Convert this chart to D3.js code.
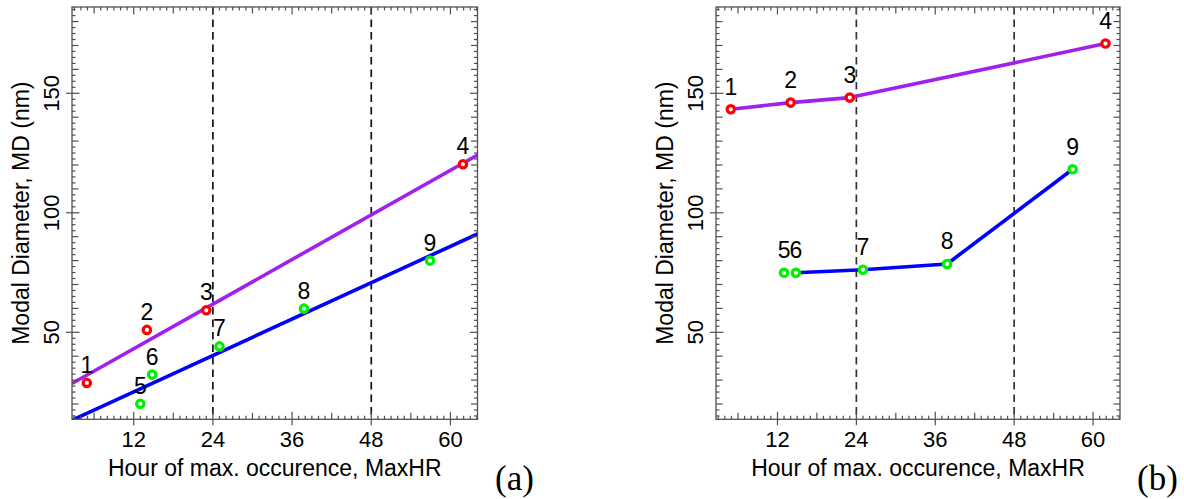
<!DOCTYPE html>
<html>
<head>
<meta charset="utf-8">
<script src="https://cdn.jsdelivr.net/npm/d3@7"></script>
<style>
  body { margin: 0; background: #fff; }
  svg { display: block; }
  text { font-family: "Liberation Sans", Arial, Helvetica, sans-serif; fill: #000; }
</style>
</head>
<body>
<svg id="chart" width="1184" height="499"></svg>
<script>
// Event numbers shown next to each marker
const redLabels = ["1", "2", "3", "4"];
const greenLabels = ["5", "6", "7", "8", "9"];

// Hour of maximum occurrence (MaxHR) for each event
const redHours = [4.9, 14.0, 23.0, 61.9];
const greenHours = [13.0, 14.8, 25.0, 37.8, 56.9];

// Modal diameter (nm), panel (a)
const redMD_a = [28.8, 51.0, 59.2, 120.3];
const greenMD_a = [20.1, 32.3, 44.1, 59.9, 80.0];

// Modal diameter (nm), panel (b)
const redMD_b = [143.3, 146.1, 148.2, 170.8];
const greenMD_b = [74.9, 74.9, 76.2, 78.6, 118.2];

// Axis ticks and reference lines
const hourTickLabels = [12, 24, 36, 48, 60];
const mdTickLabels = [50, 100, 150];
const dayMarkers = [24, 48];
const hourDomain = [2.65, 64.1];
const mdDomain = [13.6, 186.1];

const svg = d3.select("#chart");
const plotTop = 7, plotBottom = 419.3;
const frameColor = "#505050";

const panels = [
  { id: "a", tag: "(a)", left: 72, right: 477.5, red: redMD_a, green: greenMD_a,
    mode: "fit", labelGap: 10, tagX: 495, dashColor: "#111" },
  { id: "b", tag: "(b)", left: 716, right: 1120, red: redMD_b, green: greenMD_b,
    mode: "path", greenStart: 1, labelGap: 14.5, tagX: 1137, dashColor: "#333" }
];

// Least-squares straight line through a set of points: returns [slope, intercept]
function fitLine(xs, ys) {
  const mx = d3.mean(xs), my = d3.mean(ys);
  const sxy = d3.sum(xs, (x, i) => (x - mx) * (ys[i] - my));
  const sxx = d3.sum(xs, x => (x - mx) * (x - mx));
  const b = sxy / sxx;
  return [b, my - b * mx];
}

panels.forEach(p => {
  const x = d3.scaleLinear().domain(hourDomain).range([p.left, p.right]);
  const y = d3.scaleLinear().domain(mdDomain).range([plotBottom, plotTop]);
  const g = svg.append("g").attr("class", "panel-" + p.id);

  g.append("clipPath").attr("id", "clip-" + p.id)
    .append("rect")
    .attr("x", p.left).attr("y", plotTop)
    .attr("width", p.right - p.left).attr("height", plotBottom - plotTop);

  const plot = g.append("g").attr("clip-path", `url(#clip-${p.id})`);

  // Day boundaries
  plot.selectAll("line.day").data(dayMarkers).join("line")
    .attr("class", "day")
    .attr("x1", d => x(d)).attr("x2", d => x(d))
    .attr("y1", plotTop).attr("y2", plotBottom)
    .attr("stroke", p.dashColor).attr("stroke-width", 1.7)
    .attr("stroke-dasharray", "7.5,5");

  const redPts = redHours.map((h, i) => ({ h, v: p.red[i], label: redLabels[i] }));
  const greenPts = greenHours.map((h, i) => ({ h, v: p.green[i], label: greenLabels[i] }));

  if (p.mode === "fit") {
    [[redPts, "#a020f0"], [greenPts, "#0000ff"]].forEach(([pts, col]) => {
      const [b, a] = fitLine(pts.map(d => d.h), pts.map(d => d.v));
      plot.append("line")
        .attr("x1", x(hourDomain[0])).attr("y1", y(a + b * hourDomain[0]))
        .attr("x2", x(hourDomain[1])).attr("y2", y(a + b * hourDomain[1]))
        .attr("stroke", col).attr("stroke-width", 3.6);
    });
  } else {
    const line = d3.line().x(d => x(d.h)).y(d => y(d.v));
    plot.append("path").attr("d", line(redPts))
      .attr("fill", "none").attr("stroke", "#a020f0").attr("stroke-width", 3.6)
      .attr("stroke-linejoin", "round");
    plot.append("path").attr("d", line(greenPts.slice(p.greenStart)))
      .attr("fill", "none").attr("stroke", "#0000ff").attr("stroke-width", 3.6)
      .attr("stroke-linejoin", "round");
  }

  // Markers and event labels
  [[redPts, "#ff0000"], [greenPts, "#00ee00"]].forEach(([pts, col]) => {
    g.selectAll(null).data(pts).join("circle")
      .attr("cx", d => x(d.h)).attr("cy", d => y(d.v)).attr("r", 3.7)
      .attr("fill", "#fff").attr("stroke", col).attr("stroke-width", 3.2);
    g.selectAll(null).data(pts).join("text")
      .attr("x", d => x(d.h)).attr("y", d => y(d.v) - p.labelGap)
      .attr("text-anchor", "middle").attr("font-size", 23)
      .text(d => d.label);
  });

  // Frame
  g.append("rect")
    .attr("x", p.left).attr("y", plotTop)
    .attr("width", p.right - p.left).attr("height", plotBottom - plotTop)
    .attr("fill", "none").attr("stroke", frameColor).attr("stroke-width", 1.3);

  // Tick marks: 1 h minor, 6 h medium, 12 h major; 2.5 nm minor, 10 nm medium, 50 nm major
  const hourTicks = d3.range(Math.ceil(hourDomain[0]), Math.floor(hourDomain[1]) + 1);
  const mdTicks = d3.range(Math.ceil(mdDomain[0] / 2.5) * 2.5, mdDomain[1], 2.5);
  const hLen = h => (h % 12 === 0 ? 7.5 : h % 6 === 0 ? 6.5 : 3.5);
  const vLen = v => (v % 50 === 0 ? 7.5 : v % 10 === 0 ? 6.5 : 3.5);
  const ticks = g.append("g").attr("stroke", frameColor).attr("stroke-width", 1.2);

  ticks.selectAll(null).data(hourTicks).join("line")
    .attr("x1", d => x(d)).attr("x2", d => x(d))
    .attr("y1", d => plotBottom + (d % 12 === 0 ? 6 : 0)).attr("y2", d => plotBottom - hLen(d));
  ticks.selectAll(null).data(hourTicks).join("line")
    .attr("x1", d => x(d)).attr("x2", d => x(d))
    .attr("y1", plotTop).attr("y2", d => plotTop + hLen(d));
  ticks.selectAll(null).data(mdTicks).join("line")
    .attr("y1", d => y(d)).attr("y2", d => y(d))
    .attr("x1", d => p.left - (d % 50 === 0 ? 6 : 0)).attr("x2", d => p.left + vLen(d));
  ticks.selectAll(null).data(mdTicks).join("line")
    .attr("y1", d => y(d)).attr("y2", d => y(d))
    .attr("x1", p.right).attr("x2", d => p.right - vLen(d));

  // Tick labels
  g.selectAll(null).data(hourTickLabels).join("text")
    .attr("x", d => x(d)).attr("y", 447)
    .attr("text-anchor", "middle").attr("font-size", 22)
    .text(d => d);
  g.selectAll(null).data(mdTickLabels).join("text")
    .attr("transform", d => `translate(${p.left - 21},${y(d)}) rotate(-90)`)
    .attr("dy", "0.35em")
    .attr("text-anchor", "middle").attr("font-size", 22)
    .text(d => d);

  // Axis titles
  const midX = (p.left + p.right) / 2, midY = (plotTop + plotBottom) / 2;
  g.append("text").attr("x", midX).attr("y", 476)
    .attr("text-anchor", "middle").attr("font-size", 23)
    .text("Hour of max. occurence, MaxHR");
  g.append("text")
    .attr("transform", `translate(${p.left - 51},${midY}) rotate(-90)`)
    .attr("dy", "0.35em")
    .attr("text-anchor", "middle").attr("font-size", 23)
    .text("Modal Diameter, MD (nm)");

  // Panel tag
  g.append("text").attr("x", p.tagX).attr("y", 490)
    .style("font-family", "'Liberation Serif', 'Times New Roman', serif")
    .attr("font-size", 35)
    .text(p.tag);
});
</script>
</body>
</html>
